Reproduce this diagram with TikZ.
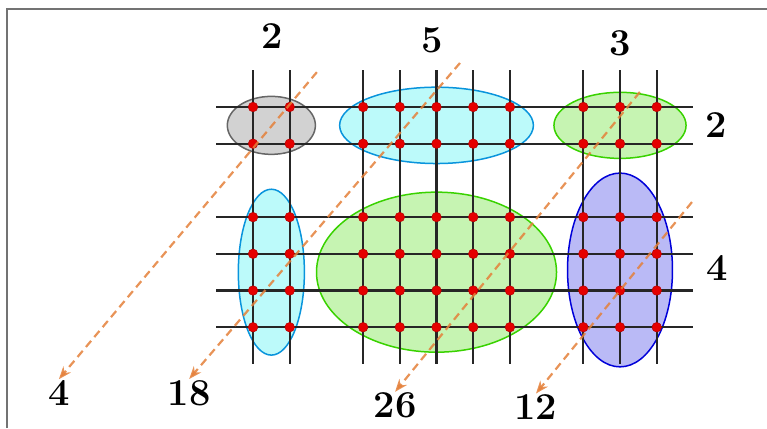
\documentclass[tikz,border=0pt]{standalone}
\usepackage{xcolor}
\usetikzlibrary{arrows.meta, calc}

\definecolor{flowOrange}{RGB}{228,128,58}
\definecolor{blockGray}{RGB}{210,210,210}
\definecolor{blockCyan}{RGB}{188,250,250}
\definecolor{blockGreen}{RGB}{198,244,178}
\definecolor{blockBlue}{RGB}{186,186,246}

\begin{document}
\begin{tikzpicture}[x=36.7pt, y=-36.7pt, >={Stealth[length=4.5mm, width=3.4mm]},
  every node/.style={font=\fontsize{38}{42}\selectfont\bfseries, inner sep=1pt},
  gridline/.style={line width=2.3pt, black!85},
  block/.style={line width=1.5pt},
  flow/.style={->, dash pattern=on 8pt off 5pt, line width=2.2pt, flowOrange, opacity=0.85}]
  \useasboundingbox (-6.894,-2.916) rectangle (14.005,8.747);
  \draw[black!55, line width=1.3pt] (-6.70,8.747) |- (14.005,-2.67);

  % blocks
  \filldraw[block, fill=blockGray, draw=black!60] (0.5,0.5) ellipse [x radius=1.2, y radius=0.79];
  \filldraw[block, fill=blockCyan, draw=cyan!80!blue] (5,0.5) ellipse [x radius=2.64, y radius=1.04];
  \filldraw[block, fill=blockGreen, draw=green!75!black!70!lime] (10,0.5) ellipse [x radius=1.8, y radius=0.9];
  \filldraw[block, fill=blockCyan, draw=cyan!80!blue] (0.5,4.5) ellipse [x radius=0.9, y radius=2.26];
  \filldraw[block, fill=blockGreen, draw=green!75!black!70!lime] (5,4.5) ellipse [x radius=3.27, y radius=2.18];
  \filldraw[block, fill=blockBlue, draw=blue!85!black] (10,4.44) ellipse [x radius=1.43, y radius=2.64];

  % grid
  \foreach \c in {0,1,3,4,5,6,7,9,10,11}
    \draw[gridline] (\c,-1) -- (\c,7);
  \foreach \r in {0,1,3,4,5,6}
    \draw[gridline] (-1,\r) -- (12,\r);
  \foreach \c in {0,1,3,4,5,6,7,9,10,11}
    \foreach \r in {0,1,3,4,5,6}
      \filldraw[fill=red!90!black, draw=red!70!black, line width=0.5pt] (\c,\r) circle (4.8pt);

  % counts
  \node (top2) at (0.52,-1.93) {2};
  \node (top5) at (4.88,-1.83) {5};
  \node (top3) at (10.0,-1.74) {3};
  \node (side2) at (12.62,0.49) {2};
  \node (side4) at (12.64,4.39) {4};
  \node (sum4) at (-5.29,7.79) {4};
  \node (sum18) at (-1.74,7.79) {18};
  \node (sum26) at (3.87,8.14) {26};
  \node (sum12) at (7.71,8.18) {12};

  % diagonals
  \coordinate (d1) at (1.74,-0.95);
  \coordinate (d2) at (5.64,-1.20);
  \coordinate (d3) at (10.54,-0.41);
  \coordinate (d4) at (11.96,2.59);
  \draw[flow] (d1) -- (sum4.north);
  \draw[flow] (d2) -- (sum18.north);
  \draw[flow] (d3) -- (sum26.north);
  \draw[flow] (d4) -- (sum12.north);
\end{tikzpicture}
\end{document}
